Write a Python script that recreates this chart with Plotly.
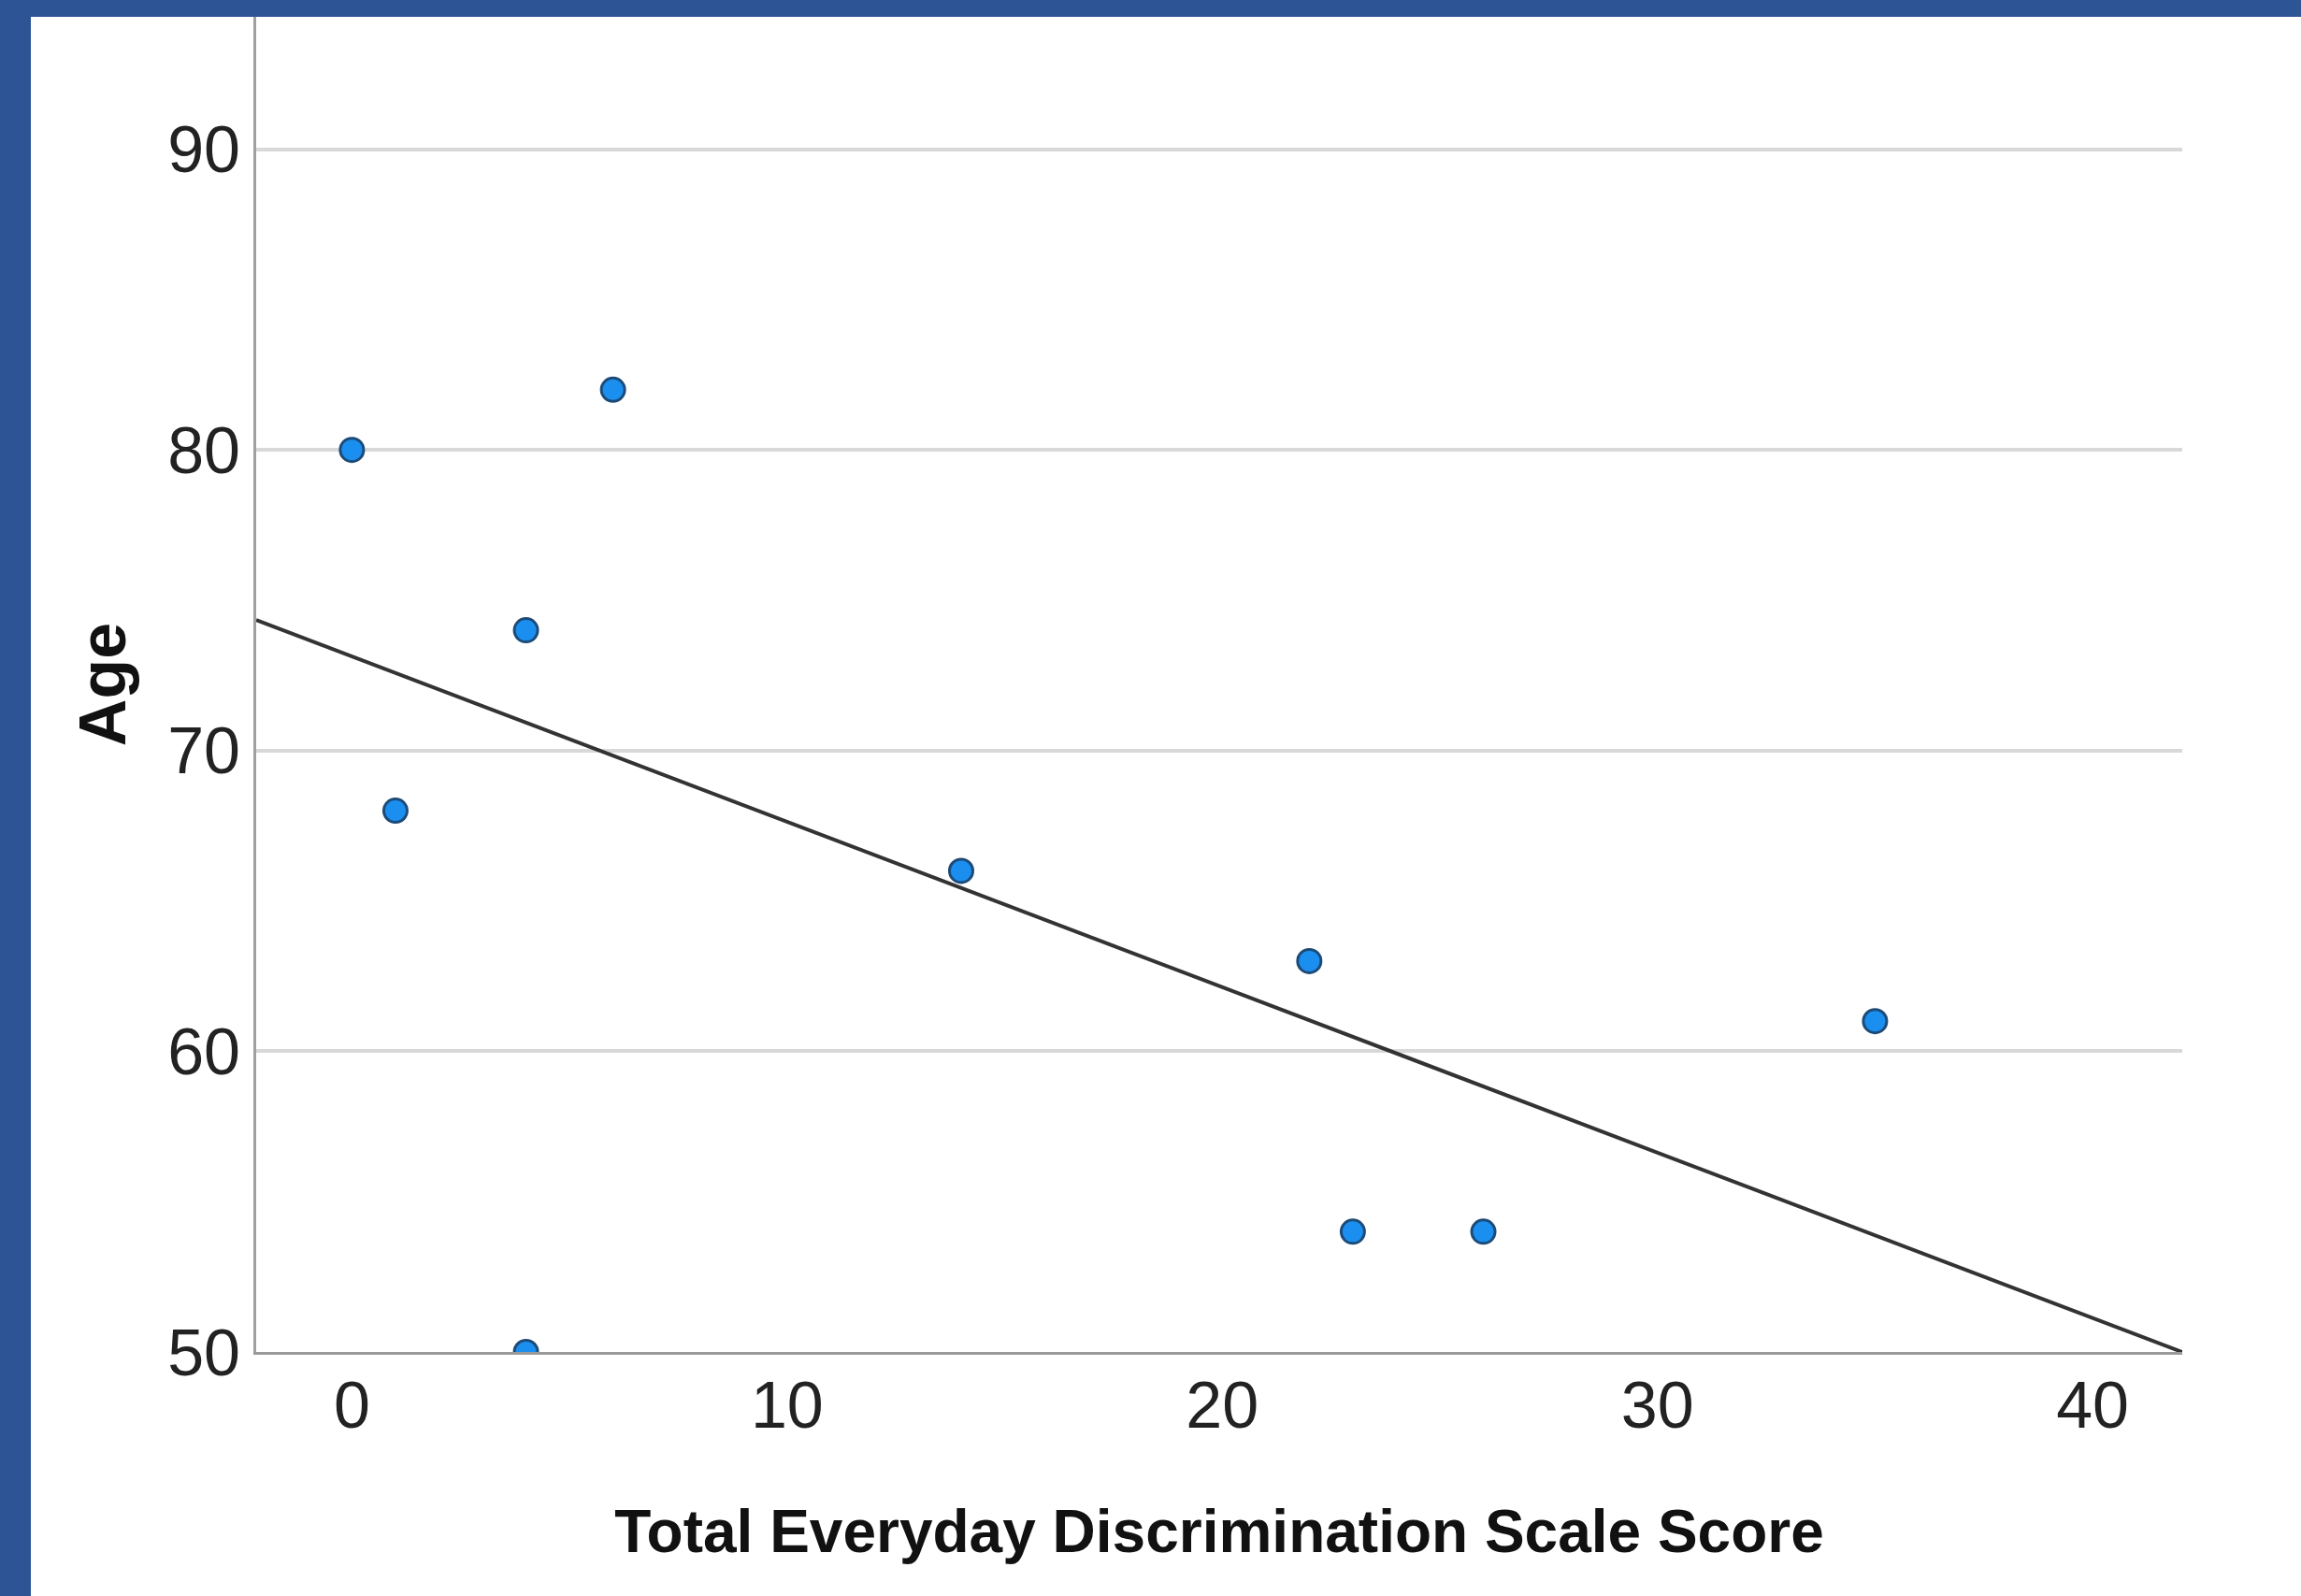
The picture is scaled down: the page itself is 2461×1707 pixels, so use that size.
import plotly.graph_objects as go

# Data
discrimination_score = [0, 6, 4, 1, 14, 22, 35, 23, 26, 4]
age = [80, 82, 74, 68, 66, 63, 61, 54, 54, 50]

# Fit line parameters (as drawn in the reference)
fit_intercept = 73.13
fit_slope = -0.55

x_ticks = [0, 10, 20, 30, 40]
y_ticks = [50, 60, 70, 80, 90]
x_range = [-2.2, 42.06]
y_range = [50, 94.4]

W, H = 2461, 1707
ML, MR, MT, MB = 274, 127, 18, 261
PW = W - ML - MR
PH = H - MT - MB

fit_x = x_range
fit_y = [fit_intercept + fit_slope * v for v in fit_x]

fig = go.Figure()
fig.add_trace(go.Scatter(
    x=fit_x, y=fit_y, mode="lines",
    line=dict(color="#333333", width=4),
    hoverinfo="skip", showlegend=False,
))
fig.add_trace(go.Scatter(
    x=discrimination_score, y=age, mode="markers",
    marker=dict(size=25, color="#1b8ff0", line=dict(color="#1d4b78", width=3)),
    showlegend=False,
))

tick_font = dict(family="Liberation Sans, Arial", size=70, color="#222222")

fig.update_layout(
    width=W, height=H,
    margin=dict(l=ML, r=MR, t=MT, b=MB, autoexpand=False),
    paper_bgcolor="white",
    plot_bgcolor="white",
    xaxis=dict(
        range=x_range, tickvals=x_ticks, ticktext=[str(v) for v in x_ticks],
        showgrid=False, zeroline=False,
        showline=True, linecolor="#9a9a9a", linewidth=3,
        ticks="", ticklen=0, ticklabelstandoff=-6,
        tickfont=tick_font,
        title=dict(text="Total Everyday Discrimination Scale Score",
                   font=dict(family="Liberation Sans, Arial", size=64, color="#111111", weight="bold"),
                   standoff=75),
    ),
    yaxis=dict(
        range=y_range, tickvals=y_ticks, ticktext=[str(v) for v in y_ticks],
        showgrid=True, gridcolor="#d8d8d8", gridwidth=4,
        zeroline=False,
        showline=True, linecolor="#a0a0a0", linewidth=3,
        ticks="", ticklen=0, ticklabelstandoff=0,
        tickfont=tick_font,
        title=dict(text="Age",
                   font=dict(family="Liberation Sans, Arial", size=70, color="#111111", weight="bold"),
                   standoff=22),
    ),
    shapes=[
        dict(type="rect", xref="paper", yref="paper",
             x0=-ML / PW - 0.01, x1=1 + MR / PW + 0.01,
             y0=1.0, y1=1 + MT / PH + 0.01,
             fillcolor="#2d5596", line=dict(width=0), layer="above"),
        dict(type="rect", xref="paper", yref="paper",
             x0=-ML / PW - 0.01, x1=-(ML - 33) / PW,
             y0=-MB / PH - 0.01, y1=1 + MT / PH + 0.01,
             fillcolor="#2d5596", line=dict(width=0), layer="above"),
    ],
)

fig.write_html("out.html", config={"displayModeBar": False},
               post_script="document.body.style.margin='0';document.body.style.overflow='hidden';")
